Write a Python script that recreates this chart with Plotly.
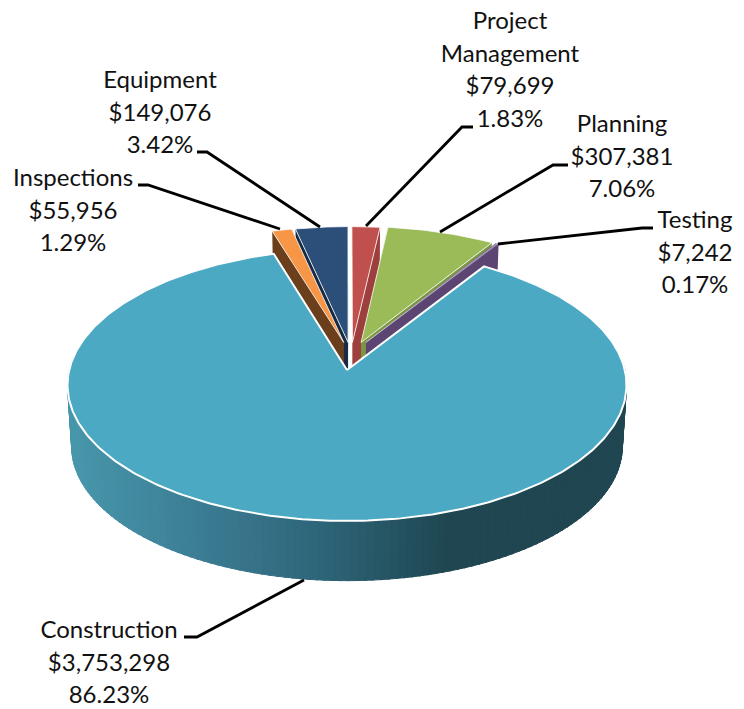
import numpy as np
import plotly.graph_objects as go

# ---- data ----
categories = ["Project Management", "Planning", "Testing", "Construction", "Inspections", "Equipment"]
label_lines = [["Project", "Management"], ["Planning"], ["Testing"], ["Construction"], ["Inspections"], ["Equipment"]]
values = [79699, 307381, 7242, 3753298, 55956, 149076]
percents = ["1.83%", "7.06%", "0.17%", "86.23%", "1.29%", "3.42%"]

# ---- styles ----
top_colors = ["#C0504D", "#9BBB59", "#8064A2", "#4BA9C3", "#F79646", "#2B4F78"]
wall_colors = ["#9C3F3D", "#7C9744", "#5C4573", "#1F4651", "#6B3F1C", "#172C44"]
FONT = "Lato"
FSIZE = 24

# ---- projection of the tilted pie ----
CX, CY = 347.0, 370.0
R, H, K = 277.8, 134.3, 0.11
S_BOTTOM, D_BOTTOM = 0.985, 62.0
shift_u = [0.020, 0.052, 0.070, 0.0, -0.012, 0.004]
shift_v = [-0.21, -0.21, -0.21, 0.0, -0.21, -0.21]


def project(u, v, bottom=False):
    u, v = np.asarray(u, float), np.asarray(v, float)
    w = 1 - K * v
    if bottom:
        return CX + S_BOTTOM * R * u / w, CY + D_BOTTOM + S_BOTTOM * H * v / w
    return CX + R * u / w, CY + H * v / w


def arc(a0, a1, n):
    t = np.radians(np.linspace(a0, a1, n))
    return np.sin(t), -np.cos(t)


fracs = np.array(values) / sum(values) * 360
ends = np.cumsum(fracs)
starts = ends - fracs

fig = go.Figure()


def poly(x, y, fill, line=None, width=0):
    fig.add_trace(go.Scatter(x=list(x), y=list(y), mode="lines", fill="toself", fillcolor=fill,
                             line=dict(color=line or fill, width=width), hoverinfo="skip", showlegend=False))


def draw_exploded(i):
    du, dv = shift_u[i], shift_v[i]
    a0, a1 = starts[i], ends[i]
    u, v = arc(a0, a1, 30)
    # radial walls, each running from the tip to the rim
    for uu, vv in ((u[0], v[0]), (u[-1], v[-1])):
        xt, yt = project([du, uu + du], [dv, vv + dv])
        xb, yb = project([du, uu + du], [dv, vv + dv], bottom=True)
        poly([xt[0], xt[1], xb[1], xb[0], xt[0]], [yt[0], yt[1], yb[1], yb[0], yt[0]], wall_colors[i])
    x, y = project(np.r_[du, u + du, du], np.r_[dv, v + dv, dv])
    poly(x, y, top_colors[i], "#FFFFFF", 0.8 if i != 2 else 0.4)


for i in [5, 0, 1, 2, 4]:
    draw_exploded(i)

# construction wall: front rim drawn as narrow strips for the light falloff
grad_x = [67, 200, 320, 450, 626]
grad_r = [72, 60, 46, 31, 31]
grad_g = [152, 125, 101, 70, 70]
grad_b = [172, 148, 121, 81, 81]
edges = np.arange(85, 277, 1.5)
for a, b in zip(edges[:-1], edges[1:]):
    u, v = arc(a, b + 0.4, 3)
    xt, yt = project(u, v)
    xb, yb = project(u, v, bottom=True)
    xm = xt.mean()
    c = "rgb(%d,%d,%d)" % (np.interp(xm, grad_x, grad_r), np.interp(xm, grad_x, grad_g), np.interp(xm, grad_x, grad_b))
    poly(np.r_[xt, xb[::-1], xt[0]], np.r_[yt, yb[::-1], yt[0]], c, c, 1)

# construction top face
i = categories.index("Construction")
u, v = arc(starts[i], ends[i], 360)
x, y = project(np.r_[0, u, 0], np.r_[0, v, 0])
poly(x, y, top_colors[i], "#FFFFFF", 2)

# leader lines
leaders = [
    ([366, 462, 473], [226, 127, 127]),
    ([440, 553, 568], [232, 165, 165]),
    ([498, 642, 653], [244, 228, 228]),
    ([304, 197, 184], [580, 637, 637]),
    ([280, 148, 138], [229, 185, 185]),
    ([320, 207, 197], [227, 152, 152]),
]
for lx, ly in leaders:
    fig.add_trace(go.Scatter(x=lx, y=ly, mode="lines", line=dict(color="#000000", width=2.8),
                             hoverinfo="skip", showlegend=False))

# labels
label_x = [510, 622, 695, 109, 73, 160]
label_y = [23, 126, 222, 632, 180, 82]
STEP = 32.7
for i in range(len(categories)):
    lines = label_lines[i] + ["${:,}".format(values[i]), percents[i]]
    fig.add_trace(go.Scatter(x=[label_x[i]] * len(lines),
                             y=[label_y[i] + k * STEP for k in range(len(lines))],
                             mode="text", text=lines, textposition="middle center",
                             textfont=dict(family=FONT, size=FSIZE, color="#111111"),
                             hoverinfo="skip", showlegend=False))

fig.update_layout(width=744, height=709, margin=dict(l=0, r=0, t=0, b=0),
                  paper_bgcolor="#FFFFFF", plot_bgcolor="#FFFFFF", showlegend=False)
fig.update_xaxes(range=[0, 744], visible=False, fixedrange=True)
fig.update_yaxes(range=[709, 0], visible=False, fixedrange=True)
fig.write_html("out.html", config={"displayModeBar": False},
               post_script="document.body.style.margin='0';document.documentElement.style.overflow='hidden';")
